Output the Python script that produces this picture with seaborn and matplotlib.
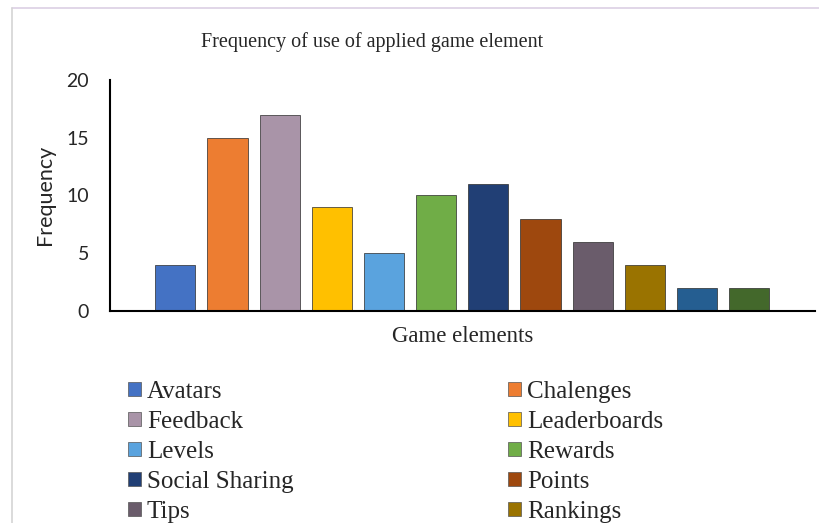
import pandas as pd
import matplotlib.pyplot as plt
import seaborn as sns
from matplotlib.patches import Patch
from matplotlib.lines import Line2D

sns.set_style("white")

# dados (as duas últimas barras não aparecem na legenda cortada)
elementos = ["Avatars", "Chalenges", "Feedback", "Leaderboards", "Levels", "Rewards",
             "Social Sharing", "Points", "Tips", "Rankings", "Element 11", "Element 12"]
frequencia = [4, 15, 17, 9, 5, 10, 11, 8, 6, 4, 2, 2]
cores = ["#4472C4", "#ED7D31", "#A994A8", "#FFC000", "#5AA3DE", "#70AD47",
         "#213F75", "#9E480E", "#6A5C6B", "#9A7300", "#255E91", "#43682B"]
legenda_visivel = elementos[:10]
yticks = [0, 5, 10, 15, 20]

df = pd.DataFrame({"Elemento": elementos, "Frequencia": frequencia})
paleta = dict(zip(elementos, cores))

fig = plt.figure(figsize=(8.2, 5.23), dpi=100)
ax = fig.add_axes([110 / 820, 1 - 311 / 523, 705 / 820, 231 / 523])

sns.barplot(data=df, x="Elemento", y="Frequencia", hue="Elemento", order=elementos,
            palette=paleta, saturation=1, dodge=False, legend=False, width=0.77,
            edgecolor="#2a2a2a", linewidth=0.5, ax=ax)

ax.set_xlim(-1.25, 12.26)
ax.set_ylim(0, 20)
ax.set_xticks([])
ax.set_yticks(yticks)
ax.set_yticklabels([str(t) for t in yticks], fontfamily="Lato", fontsize=14)
ax.tick_params(axis="y", length=0, pad=15)
for s in ["top", "right"]:
    ax.spines[s].set_visible(False)
for s in ["left", "bottom"]:
    ax.spines[s].set_color("black")
    ax.spines[s].set_linewidth(1.5)

ax.set_ylabel("")
ax.set_xlabel("Game elements", fontfamily="Liberation Serif", fontsize=16.5, labelpad=11)
fig.text(45 / 820, 1 - 195 / 523, "Frequency", rotation=90, ha="center", va="center",
         fontfamily="Lato", fontsize=15.5)
fig.text(372 / 820, 1 - 42 / 523, "Frequency of use of applied game element",
         ha="center", va="center", fontfamily="Liberation Serif", fontsize=14.5)

# legenda em duas colunas, preenchida por linha como no original
handles = [Patch(facecolor=paleta[e], edgecolor="#555555", linewidth=0.5) for e in legenda_visivel]
ordem = list(range(0, 10, 2)) + list(range(1, 10, 2))
fig.legend([handles[i] for i in ordem], [legenda_visivel[i] for i in ordem],
           loc="upper left", bbox_to_anchor=(128 / 820, 1 - 381 / 523), ncol=2,
           frameon=False, borderpad=0, borderaxespad=0,
           prop={"family": "Liberation Serif", "size": 18},
           handlelength=0.5, handleheight=0.5, handletextpad=0.25,
           labelspacing=0.32, columnspacing=8.6)

# moldura clara da captura
fig.add_artist(Line2D([12 / 820, 1], [1 - 8 / 523, 1 - 8 / 523], color="#DCD0E4", lw=1.2))
fig.add_artist(Line2D([12 / 820, 12 / 820], [0, 1 - 8 / 523], color="#D4D4D4", lw=1.2))

fig.savefig("out.png", dpi=100)
